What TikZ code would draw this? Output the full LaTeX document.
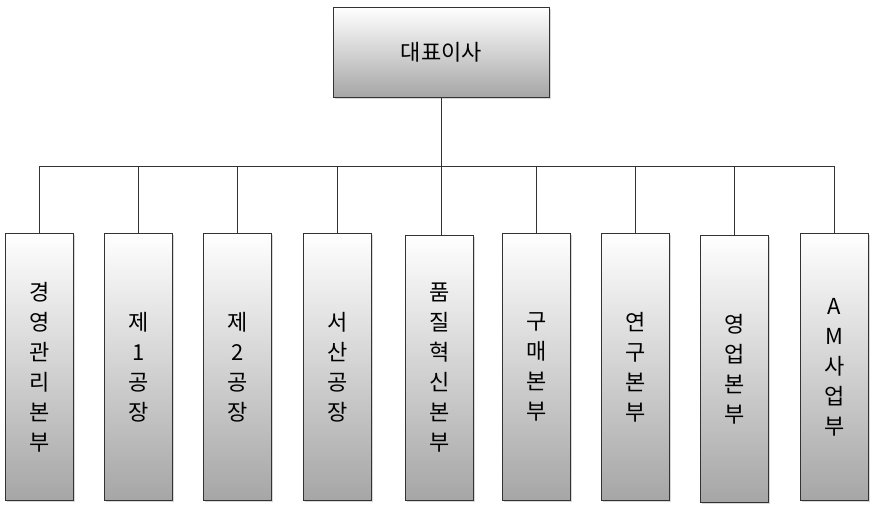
\documentclass[tikz,border=0pt]{standalone}
\usepackage{fontspec}
\usetikzlibrary{shadows}
\newfontfamily\cjk{Noto Sans CJK KR}
\begin{document}
\begin{tikzpicture}[x=1pt,y=-1pt,
  box/.style={draw=black!80,line width=0.8pt,top color=white,bottom color=black!35,
    anchor=north west,inner sep=0pt,font=\cjk\fontsize{22}{30}\selectfont,align=center,
    drop shadow={shadow xshift=2pt,shadow yshift=-2pt,fill=black!30}},
  ln/.style={draw=black!80,line width=0.8pt}]
\useasboundingbox (0,0) rectangle (874,510);
\node[box,minimum width=216pt,minimum height=90pt] (ceo) at (333,7) {대표이사};
\foreach \n/\x/\y/\h/\t in {
  a/5/233/267/{경\\영\\관\\리\\본\\부},
  b/104/233/267/{제\\1\\공\\장},
  c/203/233/267/{제\\2\\공\\장},
  d/303/233/267/{서\\산\\공\\장},
  e/405/235/265/{품\\질\\혁\\신\\본\\부},
  f/502/233/267/{구\\매\\본\\부},
  g/601/233/267/{연\\구\\본\\부},
  h/700/235/267/{영\\업\\본\\부},
  i/800/233/267/{A\\M\\사\\업\\부}}
  {\node[box,minimum width=68pt,minimum height=\h pt] (\n) at (\x,\y) {\t};}
\coordinate (bus) at (ceo.south |- 0,166);
\draw[ln] (ceo.south) -- (ceo.south |- e.north);
\draw[ln] (a.north |- bus) -- (i.north |- bus);
\foreach \n in {a,b,c,d,f,g,h,i} \draw[ln] (\n.north |- bus) -- (\n.north);
\end{tikzpicture}
\end{document}
